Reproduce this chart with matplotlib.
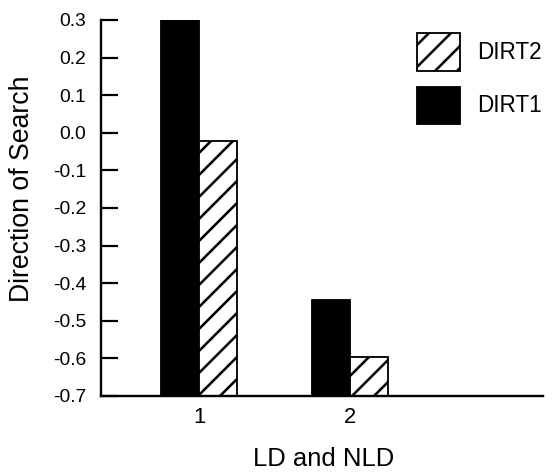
import matplotlib
matplotlib.use("Agg")
import matplotlib.pyplot as plt
import numpy as np

groups = [1, 2]
dirt1 = [0.30, -0.445]
dirt2 = [-0.022, -0.596]
yticks = [0.3, 0.2, 0.1, 0.0, -0.1, -0.2, -0.3, -0.4, -0.5, -0.6, -0.7]
base = -0.7

plt.rcParams["font.family"] = ["Liberation Sans", "DejaVu Sans"]
plt.rcParams["hatch.linewidth"] = 1.4

DPI = 132
fig = plt.figure(figsize=(555 / DPI, 472 / DPI), dpi=DPI)
ax = fig.add_axes([101 / 555, 1 - 396 / 472, 442 / 555, 376 / 472])

x = np.array(groups, dtype=float)
w = 0.25
h1 = ax.bar(x - w / 2, np.array(dirt1) - base, w, bottom=base,
            color="black", edgecolor="black", linewidth=1.0, label="DIRT1")
h2 = ax.bar(x + w / 2, np.array(dirt2) - base, w, bottom=base,
            color="white", edgecolor="black", linewidth=1.0, hatch="//",
            label="DIRT2")

ax.set_xlim(0.351, 3.278)
ax.set_ylim(-0.7, 0.3)
ax.set_yticks(yticks)
ax.set_yticklabels([f"{v:.1f}" for v in yticks])
ax.set_xticks(groups)
ax.set_xticklabels([str(g) for g in groups])

ax.spines["top"].set_visible(False)
ax.spines["right"].set_visible(False)
ax.spines["left"].set_linewidth(1.3)
ax.spines["bottom"].set_linewidth(1.3)
ax.tick_params(axis="y", direction="in", length=9, width=1.2, pad=8,
               labelsize=10.5)
ax.tick_params(axis="x", length=0, pad=6, labelsize=12)

ax.set_xlabel("LD and NLD", fontsize=14)
ax.set_ylabel("Direction of Search", fontsize=14.5)
ax.xaxis.set_label_coords(0.504, -0.136)
ax.yaxis.set_label_coords(-0.149, 0.55)

fig.legend([h2, h1], ["DIRT2", "DIRT1"], loc="upper left",
           bbox_to_anchor=(417 / 555, 1 - 33 / 472), frameon=False,
           fontsize=12.3, handlelength=1.9, handleheight=2.2,
           labelspacing=0.7, handletextpad=0.75, borderpad=0,
           borderaxespad=0)

fig.savefig("out.png", dpi=DPI)
